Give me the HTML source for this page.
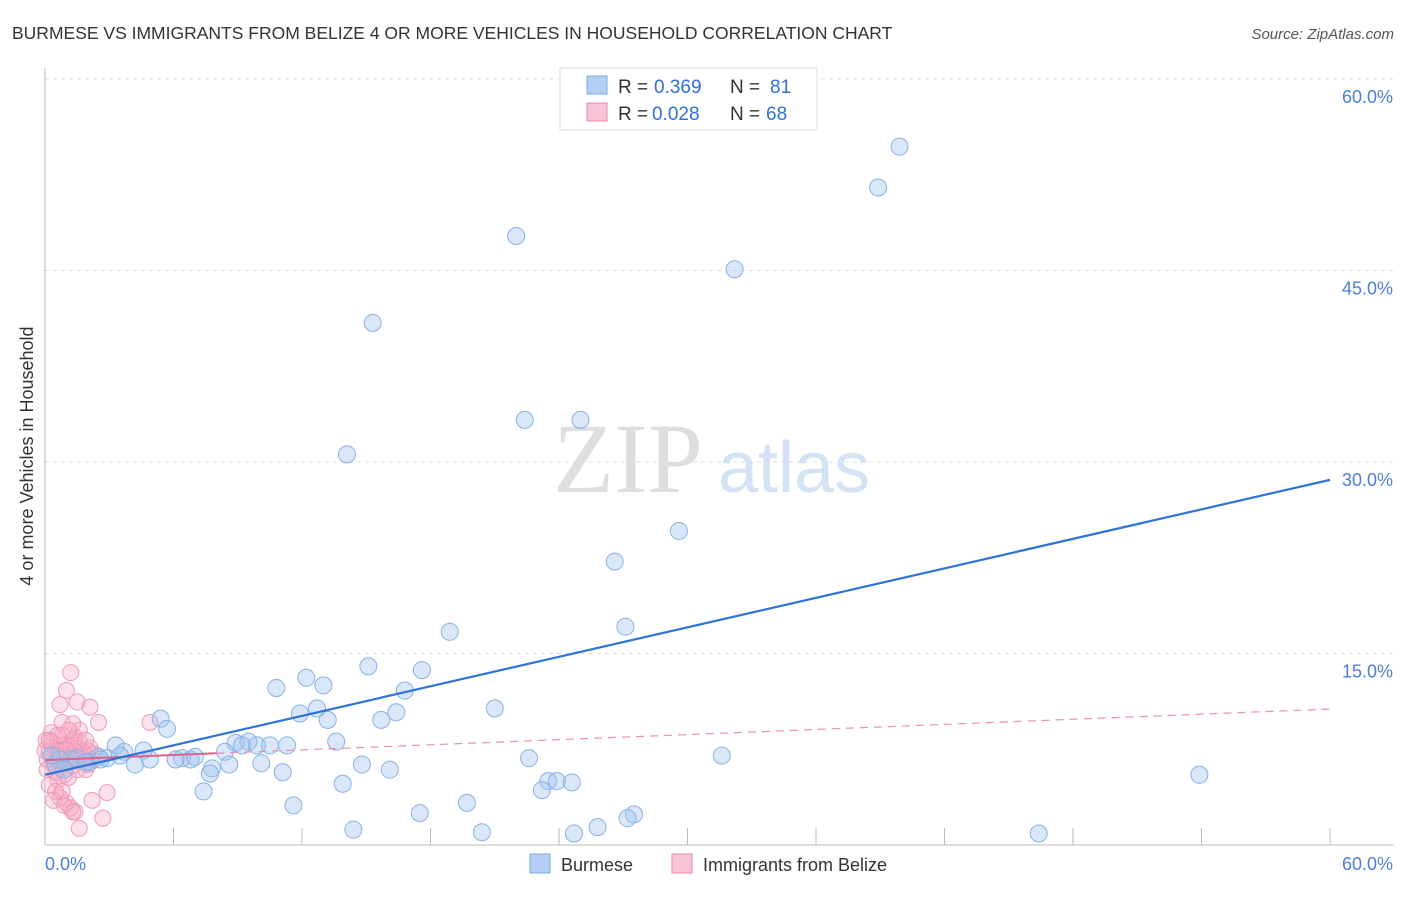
<!DOCTYPE html>
<html><head><meta charset="utf-8"><style>
body{margin:0;background:#fff;font-family:"Liberation Sans",sans-serif;}
</style></head><body>
<svg width="1406" height="892" viewBox="0 0 1406 892" xmlns="http://www.w3.org/2000/svg" font-family="Liberation Sans, sans-serif">
<text x="12" y="39" font-size="17.5" fill="#333">BURMESE VS IMMIGRANTS FROM BELIZE 4 OR MORE VEHICLES IN HOUSEHOLD CORRELATION CHART</text>
<text x="1394" y="39" font-size="15" fill="#555" font-style="italic" text-anchor="end">Source: ZipAtlas.com</text>
<g id="grid"></g>
<text x="553" y="492" font-size="100" fill="#dedede" style="font-family:'Liberation Serif',serif">ZIP</text>
<text x="718" y="492" font-size="72" fill="#d3e2f5">atlas</text>
<g id="axes"></g>
<g id="pink"></g>
<g id="blue"></g>
<g id="lines"></g>
<text x="33" y="456" font-size="18" fill="#333" text-anchor="middle" transform="rotate(-90 33 456)">4 or more Vehicles in Household</text>
<text x="45" y="870" font-size="18" fill="#4a7fd6">0.0%</text>
<text x="1393" y="870" font-size="18" fill="#4a7fd6" text-anchor="end">60.0%</text>
<g>
<rect x="560" y="68" width="257" height="62" fill="#fff" stroke="#ddd"/>
<rect x="587" y="76" width="20" height="18" fill="#b4cff3" stroke="#7aa8e0"/>
<rect x="587" y="103" width="20" height="18" fill="#f8c4d4" stroke="#e888a8"/>
<text x="618" y="93" font-size="19" fill="#333">R =</text><text x="654" y="93" font-size="19" fill="#2f6fd6">0.369</text>
<text x="730" y="93" font-size="19" fill="#333">N =</text><text x="770" y="93" font-size="19" fill="#2f6fd6">81</text>
<text x="618" y="120" font-size="19" fill="#333">R =</text><text x="652" y="120" font-size="19" fill="#2f6fd6">0.028</text>
<text x="730" y="120" font-size="19" fill="#333">N =</text><text x="766" y="120" font-size="19" fill="#2f6fd6">68</text>
</g>
<g>
<rect x="530" y="854" width="20" height="19" fill="#b4cff3" stroke="#7aa8e0"/>
<text x="561" y="871" font-size="18" fill="#333">Burmese</text>
<rect x="672" y="854" width="20" height="19" fill="#f8c4d4" stroke="#e888a8"/>
<text x="703" y="871" font-size="18" fill="#333">Immigrants from Belize</text>
</g>
</svg>
<script>
const yTicks=[15,30,45,60];
const yTickLabels=["15.0%","30.0%","45.0%","60.0%"];
const xTicks=[6,12,18,24,30,36,42,48,54,60];
const blueX=[39.9,38.9,22.0,32.2,15.3,22.4,25.0,14.1,29.6,26.6,18.9,27.1,15.1,17.6,12.2,10.8,13.0,16.8,5.4,11.9,12.7,13.2,15.7,16.4,21.0,5.7,8.9,9.5,9.2,9.9,11.3,10.5,13.6,3.3,4.6,3.7,2.5,2.9,2.1,4.9,4.2,6.4,6.8,7.0,6.1,8.4,8.6,10.1,7.8,7.7,11.1,14.8,16.1,22.6,31.6,53.9,7.4,13.9,23.5,23.9,24.6,23.2,11.6,19.7,17.5,27.5,27.2,14.4,20.4,24.7,25.8,46.4,1.2,1.5,0.7,0.5,0.9,1.9,0.3,2.6,3.5];
const blueY=[54.7,51.5,47.7,45.1,40.9,33.3,33.3,30.6,24.6,22.2,16.7,17.1,14.0,13.7,13.1,12.3,12.5,12.1,9.9,10.3,10.7,9.8,9.8,10.4,10.7,9.1,8.0,8.1,7.8,7.8,7.8,7.8,8.1,7.8,7.4,7.3,6.9,6.8,6.5,6.7,6.3,6.8,6.7,6.9,6.7,7.3,6.3,6.4,6.0,5.6,5.7,6.3,5.9,6.8,7.0,5.5,4.2,4.8,5.0,5.0,4.9,4.3,3.1,3.3,2.5,2.4,2.1,1.2,1.0,0.9,1.4,0.9,6.7,6.8,6.7,6.3,5.9,6.5,7.0,6.7,7.0];
const pinkX=[1.2,1.0,0.7,1.5,2.1,0.8,1.3,2.5,4.9,0.3,0.5,0.7,1.0,1.3,1.5,1.8,0.2,0.6,0.9,1.2,1.4,1.7,2.0,2.3,0.1,0.4,0.7,1.0,1.3,1.5,0.1,0.5,0.9,1.9,2.1,0.8,1.4,0.3,1.6,1.1,0.6,1.1,0.2,0.5,0.7,1.0,1.2,1.4,0.4,0.8,2.2,2.9,0.9,1.3,1.6,2.7,0.6,1.2,0.0,0.05,0.2,1.6,1.9,1.4,0.7,1.0,2.0,2.2];
const pinkY=[13.5,12.1,11.0,11.2,10.8,9.6,9.5,9.6,9.6,8.1,7.6,7.8,7.9,8.2,7.6,7.3,7.3,7.0,6.8,7.0,6.7,7.0,7.4,7.1,6.7,6.3,6.0,6.5,6.2,5.9,5.9,5.7,5.5,5.9,7.6,8.6,8.4,8.8,9.0,9.0,5.1,5.3,4.7,4.2,3.7,3.3,2.9,2.6,3.5,4.2,3.5,4.1,3.1,2.6,1.3,2.1,8.6,7.8,7.4,8.2,8.2,8.1,8.2,7.3,7.3,7.4,6.3,6.7];
const blueTrend=[5.5,28.6];
const pinkTrend=[6.65,10.65];
const pinkSolidEnd=8;
const NS="http://www.w3.org/2000/svg";
const X0=45,X1=1330,Y0=845,YTOP=79;
const sx=v=>X0+v/60*(X1-X0);
const sy=v=>Y0-v/60*(Y0-YTOP);
function mk(tag,attrs,parent){const e=document.createElementNS(NS,tag);for(const k in attrs)e.setAttribute(k,attrs[k]);parent.appendChild(e);return e;}
const grid=document.getElementById('grid'),axes=document.getElementById('axes');
yTicks.forEach((t,i)=>{
 const l=mk('line',{x1:X0,x2:1394,y1:sy(t),y2:sy(t),stroke:'#ddd','stroke-dasharray':'4,4'},grid);
 
 
 const tx=mk('text',{x:1393,y:sy(t)+24,'font-size':18,fill:'#4a7fd6','text-anchor':'end'},axes);
 tx.textContent=yTickLabels[i];
 
 
});
const ya=mk('line',{x1:X0,x2:X0,y1:68,y2:Y0,stroke:'#bbb'},axes);


const xa=mk('line',{x1:X0,x2:1394,y1:Y0,y2:Y0,stroke:'#bbb'},axes);


xTicks.forEach(t=>{
 const l=mk('line',{x1:sx(t),x2:sx(t),y1:828,y2:Y0,stroke:'#bbb'},axes);
 
 
});
const pg=document.getElementById('pink');
pinkX.forEach((x,i)=>{
 const c=mk('circle',{cx:sx(x),cy:sy(pinkY[i]),r:8,fill:'rgba(245,170,195,0.35)',stroke:'#ee9ab6','stroke-width':1},pg);
 
 
});
const bg=document.getElementById('blue');
blueX.forEach((x,i)=>{
 const c=mk('circle',{cx:sx(x),cy:sy(blueY[i]),r:8.5,fill:'rgba(160,196,240,0.4)',stroke:'#88b2e4','stroke-width':1},bg);
 
 
});
const lg=document.getElementById('lines');
const pAt=x=>pinkTrend[0]+(pinkTrend[1]-pinkTrend[0])*x/60;
const p1=mk('line',{x1:sx(0),y1:sy(pAt(0)),x2:sx(pinkSolidEnd),y2:sy(pAt(pinkSolidEnd)),stroke:'#e0608a','stroke-width':2},lg);


const p2=mk('line',{x1:sx(pinkSolidEnd),y1:sy(pAt(pinkSolidEnd)),x2:sx(60),y2:sy(pAt(60)),stroke:'#e890ad','stroke-width':1.2,'stroke-dasharray':'8,6'},lg);


const b1=mk('line',{x1:sx(0),y1:sy(blueTrend[0]),x2:sx(60),y2:sy(blueTrend[1]),stroke:'#2e74d8','stroke-width':2.2},lg);


</script>
</body></html>
